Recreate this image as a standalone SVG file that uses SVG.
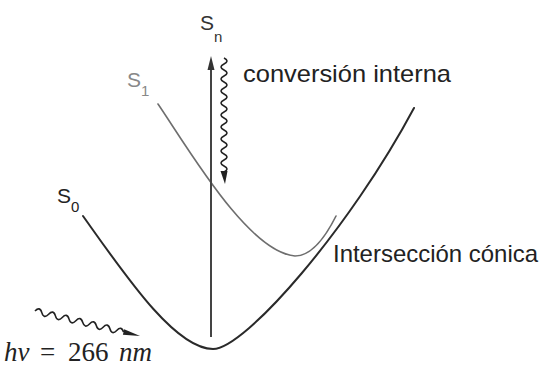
<svg xmlns="http://www.w3.org/2000/svg" width="543" height="366" viewBox="0 0 543 366">
  <defs>
    <style>
      .lbl { font-family: "Liberation Sans", Arial, sans-serif; }
      .big { font-size: 21px; }
      .sub { font-size: 15px; }
      .txt { font-family: "Liberation Sans", Arial, sans-serif; font-size: 24px; fill: #222; }
      .math { font-family: "Liberation Serif", "Times New Roman", serif; font-size: 27px; fill: #222; }
      .curve { fill: none; stroke-linecap: round; }
      .wave { fill: none; stroke: #222; stroke-width: 1.6; }
    </style>
  </defs>
  <rect width="543" height="366" fill="#ffffff"/>

  <g id="connectors">
    <!-- S0 curve -->
    <path class="curve" d="M83,216 C125,275 175,349 213,349 C245,349 350,228 414,108" stroke="#2a2a2a" stroke-width="2"/>
    <!-- S1 curve -->
    <path class="curve" d="M158,104 C188,148 248,252 295,256 C312,256 326,236 336,216" stroke="#6e6e6e" stroke-width="1.6"/>
    <!-- vertical excitation arrow -->
    <line x1="211" y1="68" x2="211" y2="337" stroke="#444" stroke-width="2"/>
    <polygon points="211,56 207.5,70 214.5,70" fill="#333"/>
    <!-- internal conversion wavy arrow -->
    <path class="wave" d="M224,58 q6,3 0,6 t0,6 t0,6 t0,6 t0,6 t0,6 t0,6 t0,6 t0,6 t0,6 t0,6 t0,6 t0,6 t0,6 t0,6 t0,6 t0,6 t0,6 t0,6"/>
    <polygon points="220.5,171 227.5,171 225,184" fill="#222"/>
    <!-- photon wavy arrow -->
    <g transform="translate(35,311) rotate(13.4)">
      <path class="wave" d="M0,0 q3.5,-6 7,0 t7,0 t7,0 t7,0 t7,0 t7,0 t7,0 t7,0 t7,0 t7,0 t7,0 t7,0 t7,0"/>
      <polygon points="91,-2.8 108,0 91,2.8" fill="#222"/>
    </g>
  </g>

  <g id="label-Sn" class="lbl" fill="#333">
    <text x="200" y="30" class="big">S</text>
    <text x="214" y="42" class="sub">n</text>
  </g>
  <g id="label-S1" class="lbl" fill="#888">
    <text x="127" y="87" class="big">S</text>
    <text x="141" y="96" class="sub">1</text>
  </g>
  <g id="label-S0" class="lbl" fill="#222">
    <text x="57" y="203" class="big">S</text>
    <text x="71" y="212" class="sub">0</text>
  </g>
  <g id="label-conversion">
    <text x="243" y="82" class="txt" textLength="208" lengthAdjust="spacingAndGlyphs">conversión interna</text>
  </g>
  <g id="label-interseccion">
    <text x="333" y="262" class="txt" fill="#333" textLength="205" lengthAdjust="spacingAndGlyphs">Intersección cónica</text>
  </g>
  <g id="label-hv">
    <text y="361" class="math"><tspan x="4" font-style="italic">hν</tspan><tspan x="40">=</tspan><tspan x="68">266</tspan><tspan x="119" font-style="italic">nm</tspan></text>
  </g>
</svg>
